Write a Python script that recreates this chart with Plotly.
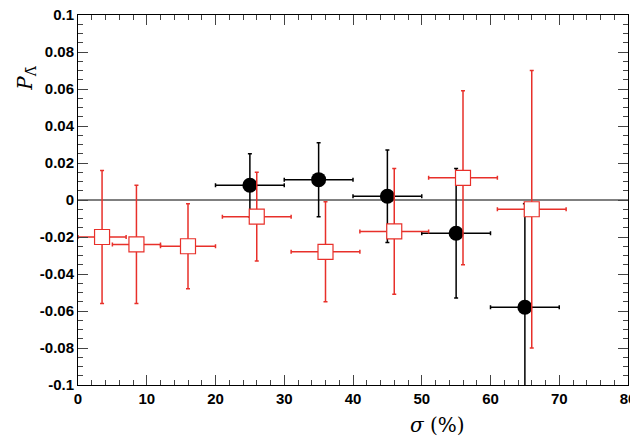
import plotly.graph_objects as go

# black: Lambda-bar polarization
blk_x = [25, 35, 45, 55, 65]
blk_y = [0.008, 0.011, 0.002, -0.018, -0.058]
blk_xerr = [5, 5, 5, 5, 5]
blk_yerr = [0.017, 0.020, 0.025, 0.035, 0.056]

# red: open squares
red_x = [3.5, 8.5, 16, 26, 36, 46, 56, 66]
red_y = [-0.020, -0.024, -0.025, -0.009, -0.028, -0.017, 0.012, -0.005]
red_xerr = [3.5, 3.5, 4, 5, 5, 5, 5, 5]
red_yerr = [0.036, 0.032, 0.023, 0.024, 0.027, 0.034, 0.047, 0.075]

fig = go.Figure()
fig.add_trace(go.Scatter(x=[0, 80], y=[0, 0], mode="lines",
                         line=dict(color="black", width=1), showlegend=False))
fig.add_trace(go.Scatter(
    x=blk_x, y=blk_y, mode="markers",
    marker=dict(color="black", size=15, symbol="circle"),
    error_x=dict(type="data", array=blk_xerr, color="black", thickness=1.5, width=2),
    error_y=dict(type="data", array=blk_yerr, color="black", thickness=1.5, width=2),
    showlegend=False))
fig.add_trace(go.Scatter(
    x=red_x, y=red_y, mode="markers",
    marker=dict(color="white", size=15, symbol="square",
                line=dict(color="#e8302a", width=1.2)),
    error_x=dict(type="data", array=red_xerr, color="#e8302a", thickness=1.5, width=2),
    error_y=dict(type="data", array=red_yerr, color="#e8302a", thickness=1.5, width=2),
    showlegend=False))

tf = dict(family="Liberation Sans, Arial", size=15, color="black", weight="bold")
fig.update_xaxes(range=[0, 80], dtick=10, ticks="inside", ticklen=10,
                 minor=dict(dtick=2, ticks="inside", ticklen=5),
                 showline=True, mirror="ticks", linecolor="black", linewidth=1,
                 showgrid=False, zeroline=False, automargin=False, tickfont=tf,
                 ticklabeloverflow="allow")
fig.update_yaxes(range=[-0.1, 0.1], ticks="inside", ticklen=10,
                 minor=dict(dtick=0.005, ticks="inside", ticklen=5),
                 tickvals=[-0.1, -0.08, -0.06, -0.04, -0.02, 0, 0.02, 0.04, 0.06, 0.08, 0.1],
                 ticktext=["-0.1", "-0.08", "-0.06", "-0.04", "-0.02", "0",
                           "0.02", "0.04", "0.06", "0.08", "0.1"],
                 showline=True, mirror="ticks", linecolor="black", linewidth=1,
                 showgrid=False, zeroline=False, automargin=False, tickfont=tf,
                 ticklabeloverflow="allow")

fig.add_annotation(text="<i>σ</i> (%)", x=0.6, xref="paper", xanchor="left",
                   y=-0.07, yref="paper", yanchor="top", showarrow=False,
                   font=dict(family="DejaVu Serif", size=20, color="black"))
fig.add_annotation(text="<i>P</i><sub>Λ̄</sub>", x=-0.095, xref="paper", xanchor="center",
                   y=0.83, yref="paper", yanchor="middle", textangle=-90, showarrow=False,
                   font=dict(family="DejaVu Serif", size=20, color="black"))

fig.update_layout(width=630, height=438, plot_bgcolor="white", paper_bgcolor="white",
                  margin=dict(l=70, r=10, t=7, b=61, autoexpand=False))
fig.write_html("out.html")
